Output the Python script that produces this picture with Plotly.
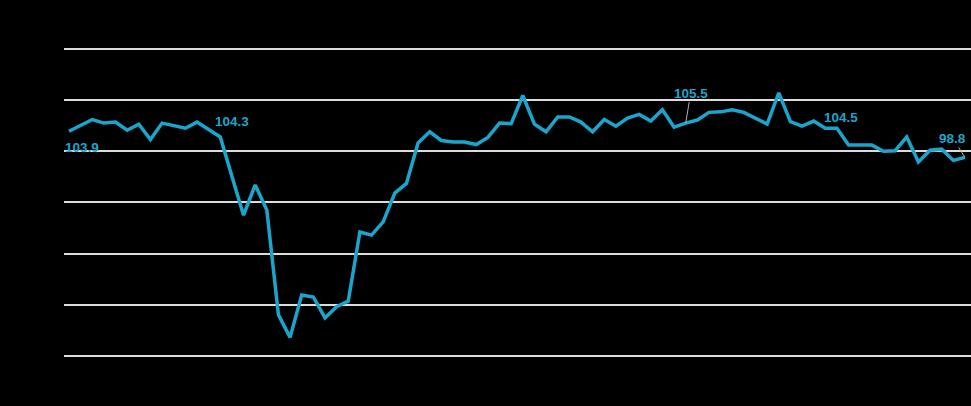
import plotly.graph_objects as go

# monthly index values (78 points)
months = list(range(78))
values = [
    103.9, 105.0, 106.2, 105.5, 105.7, 104.1, 105.3, 102.3, 105.5, 105.0,
    104.5, 105.7, 104.3, 102.8, 95.1, 87.5, 93.4, 88.5, 68.0, 63.6,
    71.9, 71.5, 67.4, 69.6, 70.7, 84.2, 83.6, 86.2, 91.8, 93.7,
    101.6, 103.8, 102.1, 101.8, 101.8, 101.3, 102.7, 105.5, 105.4, 110.9,
    105.3, 103.8, 106.7, 106.7, 105.7, 103.8, 106.2, 104.9, 106.5, 107.2,
    105.9, 108.1, 104.7, 105.5, 106.1, 107.6, 107.7, 108.1, 107.6, 106.4,
    105.3, 111.4, 105.8, 104.9, 105.9, 104.5, 104.5, 101.2, 101.2, 101.2,
    100.0, 100.1, 102.8, 97.9, 100.2, 100.4, 98.2, 98.8,
]
grid_vals = [60, 70, 80, 90, 100, 110, 120]

# labelled points: index, text
labels = [(0, "103.9"), (12, "104.3"), (53, "105.5"), (65, "104.5"), (77, "98.8")]

blue = "#1aa6cc"

fig = go.Figure()
fig.add_trace(go.Scatter(
    x=months, y=values, mode="lines",
    line=dict(color=blue, width=3.5),
    hoverinfo="skip", showlegend=False))

font = dict(family="Liberation Sans, Arial, sans-serif", size=13.5, color=blue,
            weight="bold")

def label(i, text, **kw):
    fig.add_annotation(x=months[i], y=values[i], text=text, font=font, **kw)

label(0, labels[0][1], showarrow=False, xanchor="left", xshift=-6, yshift=-16)
label(12, labels[1][1], showarrow=False, xanchor="left", xshift=4, yshift=8)
label(53, labels[2][1], showarrow=True, arrowhead=0, arrowwidth=1,
      arrowcolor="#b0b0b0", ax=5, ay=-30)
label(65, labels[3][1], showarrow=False, xshift=16, yshift=11)
label(77, labels[4][1], showarrow=True, arrowhead=0, arrowwidth=1,
      arrowcolor="#b0b0b0", ax=-12, ay=-19)

fig.update_layout(
    width=971, height=406,
    margin=dict(l=64, r=0, t=40, b=40),
    paper_bgcolor="black", plot_bgcolor="black",
    xaxis=dict(range=[-0.43, 77.52], showgrid=False, zeroline=False,
               showticklabels=False, ticks=""),
    yaxis=dict(range=[58.0, 121.75], tickvals=grid_vals, showticklabels=False,
               gridcolor="#dcdcdc", gridwidth=2, zeroline=False, ticks=""),
)

# drop the page margin so the figure sits at the window's corner
fig.write_html("out.html", config={"displayModeBar": False},
               post_script="document.body.style.margin='0';")
